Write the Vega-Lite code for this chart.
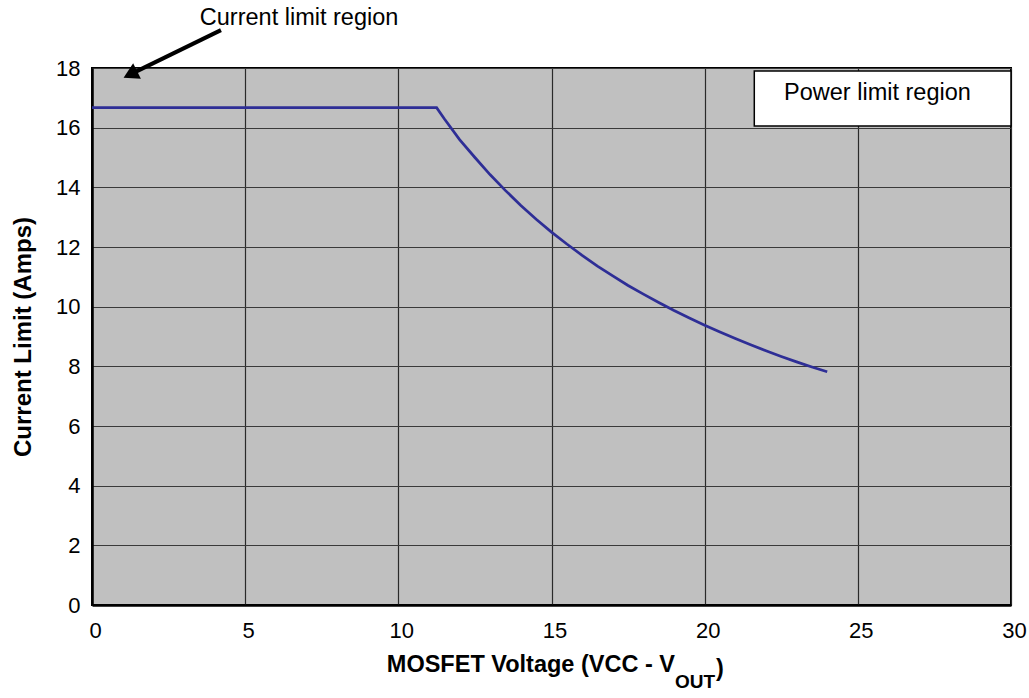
{
  "$schema": "https://vega.github.io/schema/vega-lite/v6.json",
  "width": 919,
  "height": 537,
  "autosize": "none",
  "padding": {"left": 92, "top": 68, "right": 18, "bottom": 93},
  "background": "white",
  "config": {
    "font": "Liberation Sans",
    "view": {"fill": "#c0c0c0", "stroke": "#000000", "strokeWidth": 2},
    "axis": {
      "labelFont": "Liberation Sans",
      "labelFontSize": 22,
      "labelColor": "#000000",
      "labelFlush": false,
      "titleFont": "Liberation Sans",
      "titleFontSize": 24,
      "titleFontWeight": "bold",
      "titleColor": "#000000",
      "domainColor": "#000000",
      "domainWidth": 2.5,
      "gridColor": "#3a3a3a",
      "gridWidth": 1.2,
      "gridOpacity": 1,
      "ticks": false
    }
  },
  "datasets": {
    "curve": [
      {"x": 0, "y": 16.67},
      {"x": 11.25, "y": 16.67},
      {"x": 11.5, "y": 16.3},
      {"x": 12, "y": 15.6},
      {"x": 12.5, "y": 15.0},
      {"x": 13, "y": 14.42},
      {"x": 13.5, "y": 13.89},
      {"x": 14, "y": 13.39},
      {"x": 14.5, "y": 12.93},
      {"x": 15, "y": 12.5},
      {"x": 15.5, "y": 12.1},
      {"x": 16, "y": 11.72},
      {"x": 16.5, "y": 11.36},
      {"x": 17, "y": 11.03},
      {"x": 17.5, "y": 10.71},
      {"x": 18, "y": 10.42},
      {"x": 18.5, "y": 10.14},
      {"x": 19, "y": 9.87},
      {"x": 19.5, "y": 9.62},
      {"x": 20, "y": 9.38},
      {"x": 20.5, "y": 9.15},
      {"x": 21, "y": 8.93},
      {"x": 21.5, "y": 8.72},
      {"x": 22, "y": 8.52},
      {"x": 22.5, "y": 8.33},
      {"x": 23, "y": 8.15},
      {"x": 23.5, "y": 7.98},
      {"x": 24, "y": 7.82}
    ],
    "box": [{"x": 21.62, "x2": 30, "y": 17.9, "y2": 16.06}],
    "labels": [
      {"x": 6.76, "y": 19.44, "text": "Current limit region"},
      {"x": 25.64, "y": 16.92, "text": "Power limit region"}
    ],
    "arrow": [{"x": 4.21, "y": 19.27, "x2": 1.3, "y2": 17.81}],
    "head": [{"x": 1.25, "y": 17.785}],
    "titleMain": [{"x": 19.03, "y": -2.25, "text": "MOSFET Voltage (VCC - V"}],
    "titleSub": [{"x": 19.03, "y": -2.78, "text": "OUT"}],
    "titleParen": [{"x": 20.37, "y": -2.38, "text": ")"}]
  },
  "encoding": {
    "x": {
      "field": "x",
      "type": "quantitative",
      "scale": {"domain": [0, 30], "nice": false, "zero": false},
      "axis": {"values": [0, 5, 10, 15, 20, 25, 30], "title": null, "labelPadding": 15, "labelOffset": 3, "gridColor": "#2a2a2a"}
    },
    "y": {
      "field": "y",
      "type": "quantitative",
      "scale": {"domain": [0, 18], "nice": false, "zero": false},
      "axis": {"values": [0, 2, 4, 6, 8, 10, 12, 14, 16, 18], "title": "Current Limit (Amps)", "labelPadding": 12, "titlePadding": 20}
    }
  },
  "layer": [
    {
      "data": {"name": "curve"},
      "mark": {"type": "line", "color": "#2e2e96", "strokeWidth": 2.7}
    },
    {
      "data": {"name": "box"},
      "mark": {"type": "rect", "fill": "#ffffff", "stroke": "#000000", "strokeWidth": 1.5},
      "encoding": {"x2": {"field": "x2"}, "y2": {"field": "y2"}}
    },
    {
      "data": {"name": "labels"},
      "mark": {"type": "text", "fontSize": 23.5, "color": "#000000", "align": "center", "baseline": "alphabetic"},
      "encoding": {"text": {"field": "text"}}
    },
    {
      "data": {"name": "arrow"},
      "mark": {"type": "rule", "color": "#000000", "strokeWidth": 4},
      "encoding": {"x2": {"field": "x2"}, "y2": {"field": "y2"}}
    },
    {
      "data": {"name": "head"},
      "mark": {"type": "point", "shape": "triangle-up", "filled": true, "color": "#000000", "opacity": 1, "size": 300, "angle": 243.6}
    },
    {
      "data": {"name": "titleMain"},
      "mark": {"type": "text", "fontSize": 23.5, "fontWeight": "bold", "color": "#000000", "align": "right", "baseline": "alphabetic"},
      "encoding": {"text": {"field": "text"}}
    },
    {
      "data": {"name": "titleSub"},
      "mark": {"type": "text", "fontSize": 19, "fontWeight": "bold", "color": "#000000", "align": "left", "baseline": "alphabetic"},
      "encoding": {"text": {"field": "text"}}
    },
    {
      "data": {"name": "titleParen"},
      "mark": {"type": "text", "fontSize": 23.5, "fontWeight": "bold", "color": "#000000", "align": "left", "baseline": "alphabetic"},
      "encoding": {"text": {"field": "text"}}
    }
  ]
}
